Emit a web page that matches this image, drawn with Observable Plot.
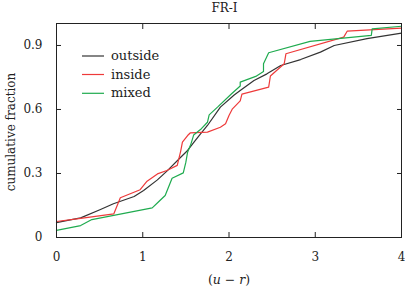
<!DOCTYPE html>
<html><head><meta charset="utf-8">
<script src="https://cdn.jsdelivr.net/npm/d3@7"></script>
<script src="https://cdn.jsdelivr.net/npm/@observablehq/plot@0.6"></script>
<style>body{margin:0;background:#fff} #chart{width:405px;height:291px}</style>
</head><body><div id="chart"></div>
<script>
const seriesNames = ["outside", "inside", "mixed"];
const outsideX = [0, 0.1, 0.28, 0.51, 0.66, 0.9, 1.01, 1.17, 1.28, 1.44, 1.52, 1.61, 1.67, 1.75, 1.90, 2.06, 2.13, 2.29, 2.44, 2.60, 2.83, 3.06, 3.22, 3.60, 4.0];
const outsideY = [0.07, 0.078, 0.092, 0.131, 0.158, 0.192, 0.22, 0.27, 0.311, 0.376, 0.408, 0.455, 0.486, 0.525, 0.611, 0.668, 0.689, 0.736, 0.767, 0.806, 0.834, 0.869, 0.90, 0.932, 0.958];
const insideX = [0, 0.28, 0.665, 0.74, 0.97, 1.05, 1.17, 1.28, 1.40, 1.44, 1.46, 1.52, 1.55, 1.75, 1.90, 1.96, 2.0, 2.04, 2.13, 2.15, 2.46, 2.48, 2.64, 2.66, 3.33, 3.37, 4.0];
const insideY = [0.075, 0.09, 0.111, 0.186, 0.224, 0.264, 0.298, 0.314, 0.338, 0.405, 0.447, 0.478, 0.49, 0.494, 0.517, 0.533, 0.572, 0.603, 0.64, 0.672, 0.705, 0.757, 0.814, 0.861, 0.939, 0.967, 0.981];
const mixedX = [0, 0.28, 0.41, 1.11, 1.19, 1.26, 1.34, 1.47, 1.50, 1.52, 1.56, 1.59, 1.68, 1.75, 1.77, 1.87, 2.03, 2.13, 2.13, 2.31, 2.40, 2.40, 2.46, 2.94, 3.65, 3.66, 4.0];
const mixedY = [0.033, 0.056, 0.084, 0.139, 0.17, 0.197, 0.278, 0.303, 0.353, 0.40, 0.44, 0.48, 0.51, 0.54, 0.575, 0.612, 0.674, 0.71, 0.728, 0.755, 0.778, 0.814, 0.866, 0.919, 0.947, 0.978, 0.99];
const xTicks = [0, 1, 2, 3, 4];
const yTicks = [0, 0.3, 0.6, 0.9];
const seriesColors = ["#333333", "#ee3a3a", "#1fab4f"];

const seriesData = {outside: [outsideX, outsideY], inside: [insideX, insideY], mixed: [mixedX, mixedY]};
const rows = [];
for (const s of seriesNames) {
  const [xs, ys] = seriesData[s];
  xs.forEach((x, i) => rows.push({series: s, x, y: ys[i]}));
}
const font = "DejaVu Serif";
const ink = "#222";

const svg = Plot.plot({
  width: 405, height: 291,
  marginLeft: 56, marginRight: 4, marginTop: 23, marginBottom: 54,
  style: {fontFamily: font, fontSize: "12px", color: ink, background: "#fff"},
  x: {domain: [0, 4]},
  y: {domain: [0, 1.003]},
  color: {domain: seriesNames, range: seriesColors},
  marks: [
    Plot.line(rows, {x: "x", y: "y", z: "series", stroke: "series", strokeWidth: 1.2}),
    Plot.frame({stroke: ink, strokeWidth: 1}),
    Plot.axisX(xTicks, {anchor: "bottom", tickSize: 0, tickPadding: 15, tickFormat: d => String(d), label: null}),
    Plot.axisX(xTicks, {anchor: "bottom", tickSize: -5, tickFormat: () => "", label: null}),
    Plot.axisX(xTicks, {anchor: "top", tickSize: -5, tickFormat: () => "", label: null}),
    Plot.axisY(yTicks, {anchor: "left", tickSize: 0, tickPadding: 14, tickFormat: d => d === 0 ? "0" : d.toFixed(1), label: null}),
    Plot.axisY(yTicks, {anchor: "left", tickSize: -5, tickFormat: () => "", label: null}),
    Plot.axisY(yTicks, {anchor: "right", tickSize: -5, tickFormat: () => "", label: null})
  ]
});
document.getElementById("chart").appendChild(svg);

const g = d3.select(svg).append("g").attr("font-family", font).attr("fill", ink);
g.append("text").attr("x", 224.5).attr("y", 12).attr("text-anchor", "middle").attr("font-size", 12).text("FR-I");
const xl = g.append("text").attr("x", 229).attr("y", 284).attr("text-anchor", "middle").attr("font-size", 12.5);
xl.append("tspan").text("(");
xl.append("tspan").attr("font-style", "italic").text("u");
xl.append("tspan").text(" \u2212 ");
xl.append("tspan").attr("font-style", "italic").text("r");
xl.append("tspan").text(")");
g.append("text").attr("transform", "translate(15,132) rotate(-90)").attr("text-anchor", "middle").attr("font-size", 12).text("cumulative fraction");

const legY = [56, 74.5, 93.3];
seriesNames.forEach((s, i) => {
  g.append("line").attr("x1", 82).attr("x2", 104).attr("y1", legY[i]).attr("y2", legY[i])
    .attr("stroke", seriesColors[i]).attr("stroke-width", 1.2);
  g.append("text").attr("x", 111).attr("y", legY[i] + 4).attr("text-anchor", "start").attr("font-size", 13).text(s);
});
</script>
</body></html>
